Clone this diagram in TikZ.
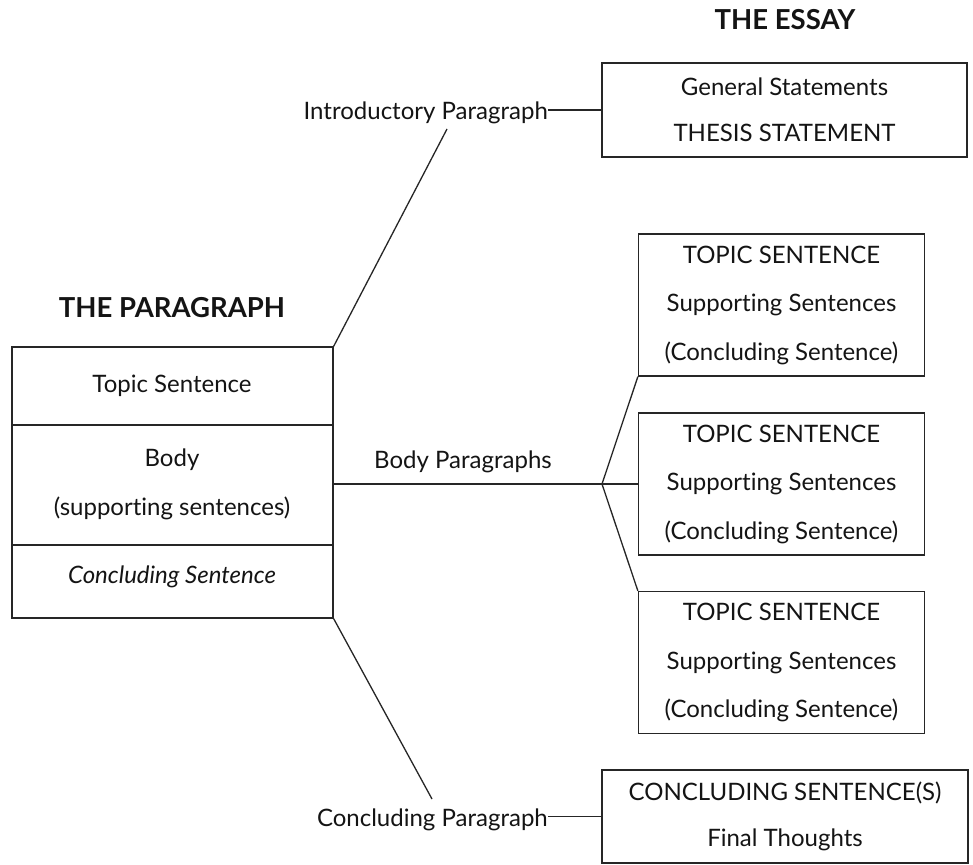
\documentclass[tikz,border=0pt]{standalone}
\usepackage{fontspec}
\setmainfont{Lato}[Ligatures=NoCommon]
\usetikzlibrary{calc}
\begin{document}
\begin{tikzpicture}[x=1pt,y=-1pt,
  ink/.style={draw=black!85, line width=1.3pt},
  txt/.style={text=black!92, font=\fontsize{24}{28}\selectfont, inner sep=0pt},
  head/.style={text=black!92, font=\fontsize{27.5}{30}\selectfont\bfseries, inner sep=0pt},
  essaybox/.style={ink, rectangle, inner sep=0pt, align=center, text=black!92,
    font=\fontsize{24}{45.5}\selectfont},
  topicbox/.style={essaybox, minimum width=286pt, minimum height=142pt,
    font=\fontsize{24}{48.5}\selectfont},
]
\useasboundingbox (0,0) rectangle (973,864);
\fill[white] (0,0) rectangle (973,864);

% ---- the paragraph ----
\node[head] (ptitle) at (172,308) {THE PARAGRAPH};
\node[ink, rectangle, minimum width=321pt, minimum height=271pt, inner sep=0pt] (para) at (172.5,482.5) {};
\coordinate (d1) at (0,425);
\coordinate (d2) at (0,545);
\draw[ink] (para.west |- d1) -- (para.east |- d1);
\draw[ink] (para.west |- d2) -- (para.east |- d2);
\node[txt] (ts) at (172,386) {Topic Sentence};
\node[txt] (bd) at (172,460) {Body};
\node[txt] (ss) at (172,508) {(supporting sentences)};
\node[txt, font=\fontsize{24}{28}\selectfont\itshape] (cs) at (172,577) {Concluding Sentence};

% ---- the essay ----
\node[head] (etitle) at (785,20) {THE ESSAY};
\node[essaybox, minimum width=365pt, minimum height=94pt] (intro) at (784.5,110)
  {General Statements\\THESIS STATEMENT};
\node[topicbox] (tp1) at (781.5,305)
  {TOPIC SENTENCE\\Supporting Sentences\\(Concluding Sentence)};
\node[topicbox] (tp2) at (781.5,484)
  {TOPIC SENTENCE\\Supporting Sentences\\(Concluding Sentence)};
\node[topicbox] (tp3) at (781.5,662.5)
  {TOPIC SENTENCE\\Supporting Sentences\\(Concluding Sentence)};
\node[essaybox, minimum width=366pt, minimum height=93pt] (concl) at (785,816.5)
  {CONCLUDING SENTENCE(S)\\Final Thoughts};

% ---- labels ----
\node[txt, anchor=base east] (ilab) at (548,119) {Introductory Paragraph};
\node[txt] (blab) at (463,462) {Body Paragraphs};
\node[txt, anchor=base east] (clab) at (548,826) {Concluding Paragraph};

% ---- connectors ----
\coordinate (itip) at (447,129);
\coordinate (ctip) at (432,799);
\coordinate (fan) at (602,484);
\draw[ink] (para.north east) -- (itip);
\draw[ink] (ilab.east |- intro.west) -- (intro.west);
\draw[ink] (para.east |- fan) -- (fan) -- (tp2.west);
\draw[ink] (fan) -- (tp1.south west);
\draw[ink] (fan) -- (tp3.north west);
\draw[ink] (para.south east) -- (ctip);
\draw[ink] (clab.east |- concl.west) -- (concl.west);
\end{tikzpicture}
\end{document}
